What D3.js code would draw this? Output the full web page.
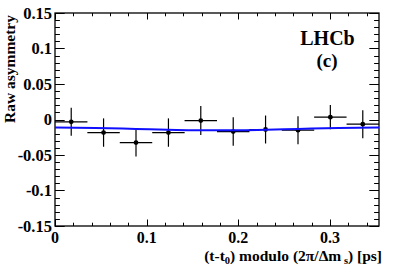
<!DOCTYPE html>
<html><head><meta charset="utf-8">
<script src="https://cdn.jsdelivr.net/npm/d3@7"></script>
<style>body{margin:0;background:#fff}svg{display:block}</style>
</head><body>
<svg id="c" width="399" height="270"></svg>
<script>
const binCenters = [0.0177, 0.0530, 0.0884, 0.1238, 0.1591, 0.1945, 0.2298, 0.2652, 0.3005, 0.3359];
const binHalfWidth = [0.0177, 0.0177, 0.0177, 0.0177, 0.0177, 0.0177, 0.0177, 0.0177, 0.0177, 0.0177];
const asymValues = [-0.0033, -0.0184, -0.0325, -0.0184, -0.0015, -0.0170, -0.0141, -0.0151, 0.0033, -0.0066];
const asymErrors = [0.0197, 0.0200, 0.0197, 0.0200, 0.0205, 0.0200, 0.0197, 0.0197, 0.0170, 0.0197];
const fitT = [0, 0.0442, 0.0884, 0.1326, 0.1768, 0.2210, 0.2652, 0.3094, 0.3536];
const fitA = [-0.0113, -0.0119, -0.0133, -0.0147, -0.0153, -0.0147, -0.0133, -0.0119, -0.0113];
const xTicks = [0, 0.1, 0.2, 0.3];
const yTicks = [-0.15, -0.1, -0.05, 0, 0.05, 0.1, 0.15];
const yTickLabels = ["-0.15", "-0.1", "-0.05", "0", "0.05", "0.1", "0.15"];

const L = 55, R = 379, T = 13, B = 226;
const x = d3.scaleLinear().domain([0, 0.3536]).range([L, R]);
const y = d3.scaleLinear().domain([-0.15, 0.15]).range([B, T]);
const svg = d3.select("#c");
const font = "Liberation Serif, Times New Roman, serif";

const xMinor = d3.range(0, 0.3536, 0.02);
const yMinor = d3.range(-0.15, 0.1501, 0.01);
const g = svg.append("g").attr("stroke", "#000").attr("stroke-width", 1);
xMinor.forEach(v => {
  const major = xTicks.some(t => Math.abs(t - v) < 1e-6);
  const len = major ? 6.5 : 3.3;
  const px = Math.round(x(v)) + 0.5;
  g.append("line").attr("x1", px).attr("x2", px).attr("y1", B).attr("y2", B - len);
  g.append("line").attr("x1", px).attr("x2", px).attr("y1", T).attr("y2", T + len);
});
yMinor.forEach(v => {
  const major = yTicks.some(t => Math.abs(t - v) < 1e-6);
  const len = major ? 9.7 : 4.9;
  const py = Math.round(y(v)) + 0.5;
  g.append("line").attr("x1", L).attr("x2", L + len).attr("y1", py).attr("y2", py);
  g.append("line").attr("x1", R).attr("x2", R - len).attr("y1", py).attr("y2", py);
});
svg.append("rect").attr("x", L).attr("y", T).attr("width", R - L).attr("height", B - T)
  .attr("fill", "none").attr("stroke", "#000").attr("stroke-width", 1.3);

svg.append("g").selectAll("text").data(xTicks).join("text")
  .attr("x", d => x(d)).attr("y", 243).attr("text-anchor", "middle")
  .attr("font-family", font).attr("font-weight", "bold").attr("font-size", 16)
  .text(d => d === 0 ? "0" : String(d));
svg.append("g").selectAll("text").data(yTicks).join("text")
  .attr("x", 52).attr("y", d => y(d) + 5.5).attr("text-anchor", "end")
  .attr("font-family", font).attr("font-weight", "bold").attr("font-size", 16.5)
  .text((d, i) => yTickLabels[i]);

svg.append("text").attr("transform", "translate(15,15) rotate(-90)")
  .attr("text-anchor", "end").attr("font-family", font).attr("font-weight", "bold")
  .attr("font-size", 15.5).text("Raw asymmetry");
const xt = svg.append("text").attr("x", 382).attr("y", 261).attr("text-anchor", "end")
  .attr("font-family", font).attr("font-weight", "bold").attr("font-size", 15.5);
xt.append("tspan").text("(t-t");
xt.append("tspan").attr("font-size", 10.5).attr("dy", 3).text("0");
xt.append("tspan").attr("dy", -3).text(") modulo (2π/Δm");
xt.append("tspan").attr("font-size", 10.5).attr("dy", 3).text(" s");
xt.append("tspan").attr("dy", -3).text(") [ps]");

svg.append("text").attr("x", 327.5).attr("y", 45).attr("text-anchor", "middle")
  .attr("font-family", font).attr("font-weight", "bold").attr("font-size", 20).text("LHCb");
svg.append("text").attr("x", 327).attr("y", 67).attr("text-anchor", "middle")
  .attr("font-family", font).attr("font-weight", "bold").attr("font-size", 19).text("(c)");

const pts = svg.append("g").attr("stroke", "#000").attr("stroke-width", 1.2);
binCenters.forEach((c, i) => {
  const v = asymValues[i], e = asymErrors[i], h = binHalfWidth[i];
  pts.append("line").attr("x1", x(c - h)).attr("x2", x(c + h)).attr("y1", y(v)).attr("y2", y(v));
  pts.append("line").attr("x1", x(c)).attr("x2", x(c)).attr("y1", y(v - e)).attr("y2", y(v + e));
  pts.append("circle").attr("cx", x(c)).attr("cy", y(v)).attr("r", 2.4).attr("fill", "#000").attr("stroke", "none");
});

svg.append("path").datum(fitT.map((t, i) => [t, fitA[i]]))
  .attr("d", d3.line().x(d => x(d[0])).y(d => y(d[1])).curve(d3.curveMonotoneX))
  .attr("fill", "none").attr("stroke", "#1010ff").attr("stroke-width", 2);
</script>
</body></html>
